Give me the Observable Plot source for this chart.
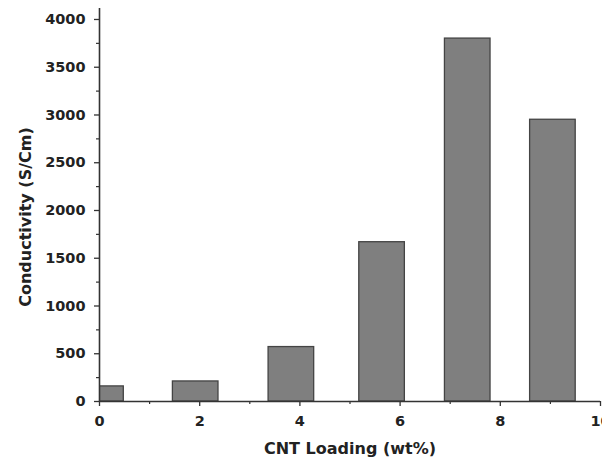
<!DOCTYPE html>
<html>
<head>
<meta charset="utf-8">
<script src="https://cdn.jsdelivr.net/npm/d3@7"></script>
<script src="https://cdn.jsdelivr.net/npm/@observablehq/plot@0.6"></script>
<style>
  html, body { margin: 0; padding: 0; background: #fff; }
  #chart svg { display: block; }
</style>
</head>
<body>
<div id="chart"></div>
<script>
// Data
const loadings = [0.03, 1.92, 3.83, 5.64, 7.35, 9.05];   // bar centres, wt%
const conductivity = [158, 210, 570, 1668, 3800, 2950];   // S/Cm
const xMajorTicks = [0, 2, 4, 6, 8, 10];
const xMinorTicks = [1, 3, 5, 7, 9];
const yMajorTicks = [0, 500, 1000, 1500, 2000, 2500, 3000, 3500, 4000];
const yMinorTicks = [250, 750, 1250, 1750, 2250, 2750, 3250, 3750];

const barWidth = 0.91;
const data = loadings.map((x, i) => ({x, y: conductivity[i]}));

const font = "'DejaVu Sans', sans-serif";

const chart = Plot.plot({
  width: 602,
  height: 461,
  marginLeft: 99,
  marginRight: 2,
  marginTop: 8,
  marginBottom: 60,
  style: {fontFamily: font, fontSize: "14px", fontWeight: "bold", color: "#222", background: "#fff"},
  x: {domain: [0, 10]},
  y: {domain: [0, 4115]},
  marks: [
    Plot.rectY(data, {
      x1: d => d.x - barWidth / 2,
      x2: d => d.x + barWidth / 2,
      y: "y",
      fill: "#7f7f7f",
      stroke: "#444",
      strokeWidth: 1.3,
      clip: true
    }),
    Plot.axisY({ticks: yMajorTicks, tickSize: 5, tickPadding: 9, tickFormat: d => String(d), label: null, stroke: "#333", strokeWidth: 1.3, fontSize: 14.5, fontWeight: "bold", style: {letterSpacing: "1px"}}),
    Plot.axisY({ticks: yMinorTicks, tickSize: 3, text: null, label: null, stroke: "#333", strokeWidth: 1.2}),
    Plot.axisX({ticks: xMajorTicks, tickSize: 5, tickPadding: 9, tickFormat: d => String(d), label: null, stroke: "#333", strokeWidth: 1.3, fontSize: 14.5, fontWeight: "bold"}),
    Plot.axisX({ticks: xMinorTicks, tickSize: 3, text: null, label: null, stroke: "#333", strokeWidth: 1.2}),
    Plot.ruleX([0], {stroke: "#333", strokeWidth: 1.6}),
    Plot.ruleY([0], {stroke: "#333", strokeWidth: 1.6}),
    Plot.text(["CNT Loading (wt%)"], {
      frameAnchor: "bottom", dy: 52, fontSize: 16, fontWeight: "bold", fill: "#222",
      style: {letterSpacing: "0.5px"}
    }),
    Plot.text(["Conductivity (S/Cm)"], {
      frameAnchor: "left", textAnchor: "middle", dx: -74, dy: 12, rotate: -90, fontSize: 16, fontWeight: "bold", fill: "#222"
    })
  ]
});

document.getElementById("chart").appendChild(chart);
</script>
</body>
</html>
